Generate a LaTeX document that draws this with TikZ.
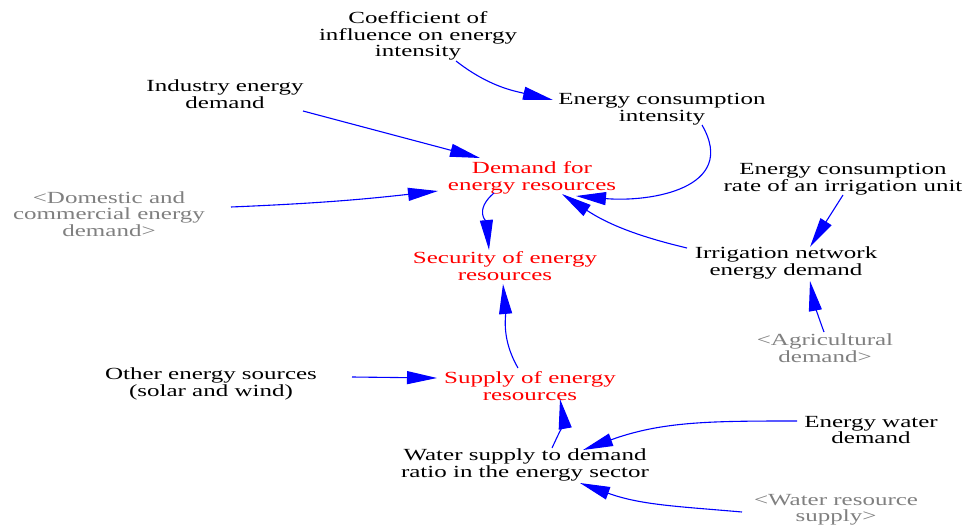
\documentclass[tikz,border=0pt]{standalone}
\usepackage{fontspec}
\setmainfont{Liberation Serif}[FakeStretch=1.47]
\usetikzlibrary{arrows.meta}
\definecolor{vblue}{RGB}{0,0,255}
\definecolor{vred}{RGB}{255,0,0}
\definecolor{vgray}{RGB}{128,128,128}
\begin{document}
\begin{tikzpicture}[x=1pt,y=-1pt,
  var/.style={align=center,inner sep=0pt,font=\fontsize{17}{16.5}\selectfont,text=black},
  key/.style={var,text=vred},
  shadow/.style={var,text=vgray},
  arr/.style={draw=vblue,line width=1.1pt,-{Triangle[length=30pt,width=13pt]}}]
\fill[white] (0,0) rectangle (963,527);
\useasboundingbox (0,0) rectangle (963,527);
% nodes
\node[var] (coef) at (418,36) {Coefficient of\\influence on energy\\intensity};
\node[var] (eci) at (662,109) {Energy consumption\\intensity};
\node[var] (ind) at (225,94) {Industry energy\\demand};
\node[key] (dem) at (532,178) {Demand for\\energy resources};
\node[shadow] (dom) at (109,214) {<Domestic and\\commercial energy\\demand>};
\node[var] (ecr) at (843,179) {Energy consumption\\rate of an irrigation unit};
\node[key] (sec) at (505,266) {Security of energy\\resources};
\node[var] (irr) at (786,263) {Irrigation network\\energy demand};
\node[shadow] (agr) at (825,348) {<Agricultural\\demand>};
\node[var] (oth) at (211,384) {Other energy sources\\(solar and wind)};
\node[key] (sup) at (530,386) {Supply of energy\\resources};
\node[var] (ewd) at (871,430) {Energy water\\demand};
\node[var] (wsr) at (525,465) {Water supply to demand\\ratio in the energy sector};
\node[shadow] (wrs) at (836,510) {<Water resource\\supply>};
% connectors
\draw[arr] ([shift={(38,25)}]coef.center) to[out=-38,in=167] ([shift={(-109,-9)}]eci.center);
\draw[arr] ([shift={(40,16)}]eci.center) to[out=-60,in=-5,looseness=1.3] ([shift={(44,18)}]dem.center);
\draw[arr] ([shift={(78,17)}]ind.center) -- ([shift={(-52,-20)}]dem.center);
\draw[arr] ([shift={(122,-7)}]dom.center) to[bend right=2] ([shift={(-94,13)}]dem.center);
\draw[arr] ([shift={(-38,15)}]dem.center) to[out=-140,in=95,looseness=1.2] ([shift={(-16,-16)}]sec.center);
\draw[arr] ([shift={(0,16)}]ecr.center) -- ([shift={(24,-16)}]irr.center);
\draw[arr] ([shift={(-99,-15)}]irr.center) to[bend left=10] ([shift={(30,16)}]dem.center);
\draw[arr] ([shift={(-1,-16)}]agr.center) to[bend left=5] ([shift={(24,18)}]irr.center);
\draw[arr] ([shift={(-12,-18)}]sup.center) to[out=120,in=-85] ([shift={(-2,18)}]sec.center);
\draw[arr] ([shift={(141,-7)}]oth.center) -- ([shift={(-93,-8)}]sup.center);
\draw[arr] ([shift={(27,-17)}]wsr.center) to[out=65,in=-80,looseness=1.2] ([shift={(30,13)}]sup.center);
\draw[arr] ([shift={(-74,-9)}]ewd.center) to[out=180,in=20] ([shift={(58,-15)}]wsr.center);
\draw[arr] ([shift={(-94,2)}]wrs.center) to[out=175,in=-20] ([shift={(55,18)}]wsr.center);
\end{tikzpicture}
\end{document}
